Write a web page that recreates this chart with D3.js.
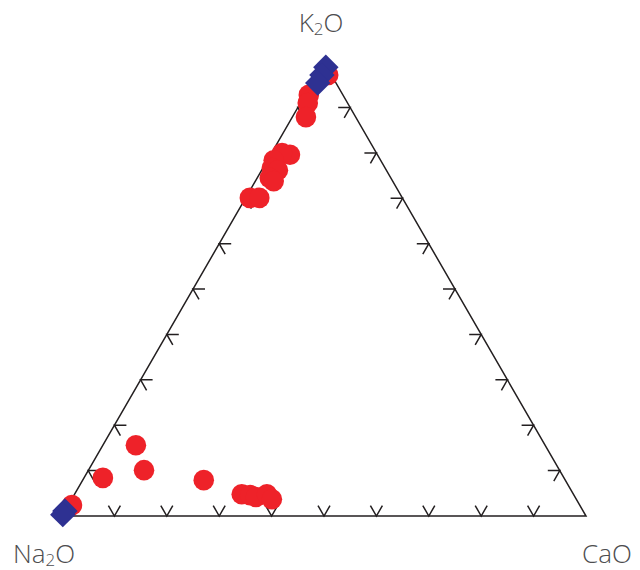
<!DOCTYPE html>
<html>
<head>
<meta charset="utf-8">
<script src="https://cdn.jsdelivr.net/npm/d3@7"></script>
<style>
  body { margin: 0; background: #fff; }
  .label { font-family: 'Open Sans', 'Noto Sans', sans-serif; font-weight: 300; fill: #4d4d4f; font-size: 26px; }
</style>
</head>
<body>
<div class="result"></div>
<script>
// compositions in %: [Na2O, K2O, CaO]
const circleNa = [0.6, 6.5, 7.6, 9.5, 16.7, 18.0, 20.4, 21.6, 20.7, 23.1, 22.7, 29.1, 27.3,
  96.9, 88.0, 78.1, 79.3, 69.0, 63.3, 61.8, 60.9, 58.5, 58.1]
const circleK = [97.2, 92.8, 91.0, 87.9, 79.6, 80.0, 78.4, 76.7, 76.2, 74.5, 73.8, 70.1, 70.1,
  2.4, 8.4, 15.6, 10.1, 7.9, 4.8, 4.6, 4.2, 4.8, 3.7]
const circleCa = [2.2, 0.7, 1.4, 2.6, 3.7, 2.0, 1.2, 1.7, 3.1, 2.4, 3.5, 0.8, 2.6,
  0.7, 3.6, 6.3, 10.6, 23.1, 31.9, 33.6, 34.9, 36.7, 38.2]

const diamondNa = [0.2, 1.8, 3.5, 98.9, 100]
const diamondK = [98.9, 97.2, 95.4, 1.1, 0.3]
const diamondCa = [0.9, 1.0, 1.1, 0, 0]

const tickValues = [10, 20, 30, 40, 50, 60, 70, 80, 90]

const side = 524
const x0 = 62
const yBase = 516
const h = side * Math.sqrt(3) / 2
const armLen = 12

const svg = d3
  .select('.result')
  .append('svg')
  .attr('width', 640)
  .attr('height', 570)

const xScale = d3.scaleLinear().domain([0, 100]).range([x0, x0 + side])
const yScale = d3.scaleLinear().domain([0, 100]).range([yBase, yBase - h])

// position of a composition (Na2O is implied)
function px(k, ca) {
  return xScale(ca + k / 2)
}
function py(k) {
  return yScale(k)
}

const g = svg.append('g')

// triangle outline
g.append('path')
  .attr('d', 'M' + px(0, 0) + ',' + py(0) +
    'L' + px(0, 100) + ',' + py(0) +
    'L' + px(100, 0) + ',' + py(100) + 'Z')
  .attr('fill', 'none')
  .attr('stroke', '#231f20')
  .attr('stroke-width', 1.5)

const c60 = Math.cos(Math.PI / 3)
const s60 = Math.sin(Math.PI / 3)

// ticks: two arms per tick
const tickData = []
tickValues.forEach((t) => {
  // bottom (CaO axis)
  tickData.push({ x: px(0, t), y: py(0), a: [[-c60, -s60], [c60, -s60]] })
  // left side (K2O axis)
  tickData.push({ x: px(t, 0), y: py(t), a: [[1, 0], [c60, s60]] })
  // right side
  tickData.push({ x: px(t, 100 - t), y: py(t), a: [[-1, 0], [-c60, s60]] })
})

g.append('g')
  .selectAll('path')
  .data(tickData)
  .enter()
  .append('path')
  .attr('d', (d) => {
    return 'M' + (d.x + d.a[0][0] * armLen) + ',' + (d.y + d.a[0][1] * armLen) +
      'L' + d.x + ',' + d.y +
      'L' + (d.x + d.a[1][0] * armLen) + ',' + (d.y + d.a[1][1] * armLen)
  })
  .attr('fill', 'none')
  .attr('stroke', '#231f20')
  .attr('stroke-width', 1.5)

// red circles
g.append('g')
  .selectAll('circle')
  .data(d3.range(circleNa.length))
  .enter()
  .append('circle')
  .attr('cx', (i) => px(circleK[i], circleCa[i]))
  .attr('cy', (i) => py(circleK[i]))
  .attr('r', 10.3)
  .attr('fill', '#ee2229')

// blue diamonds
const diamond = d3.symbol().type(d3.symbolSquare).size(324)
g.append('g')
  .selectAll('path')
  .data(d3.range(diamondNa.length))
  .enter()
  .append('path')
  .attr('d', diamond)
  .attr('transform', (i) => 'translate(' + px(diamondK[i], diamondCa[i]) + ',' + py(diamondK[i]) + ') rotate(45)')
  .attr('fill', '#2e3192')

// labels
function label(x, y, main, tail, anchor) {
  const t = svg.append('text')
    .attr('class', 'label')
    .attr('x', x)
    .attr('y', y)
    .attr('text-anchor', anchor)
  t.append('tspan').text(main)
  t.append('tspan').attr('font-size', '17px').attr('dy', 3).text('2')
  t.append('tspan').attr('dy', -3).text(tail)
}
label(321, 32, 'K', 'O', 'middle')
label(13, 563, 'Na', 'O', 'start')
svg.append('text')
  .attr('class', 'label')
  .attr('x', 582)
  .attr('y', 563)
  .text('CaO')
</script>
</body>
</html>
